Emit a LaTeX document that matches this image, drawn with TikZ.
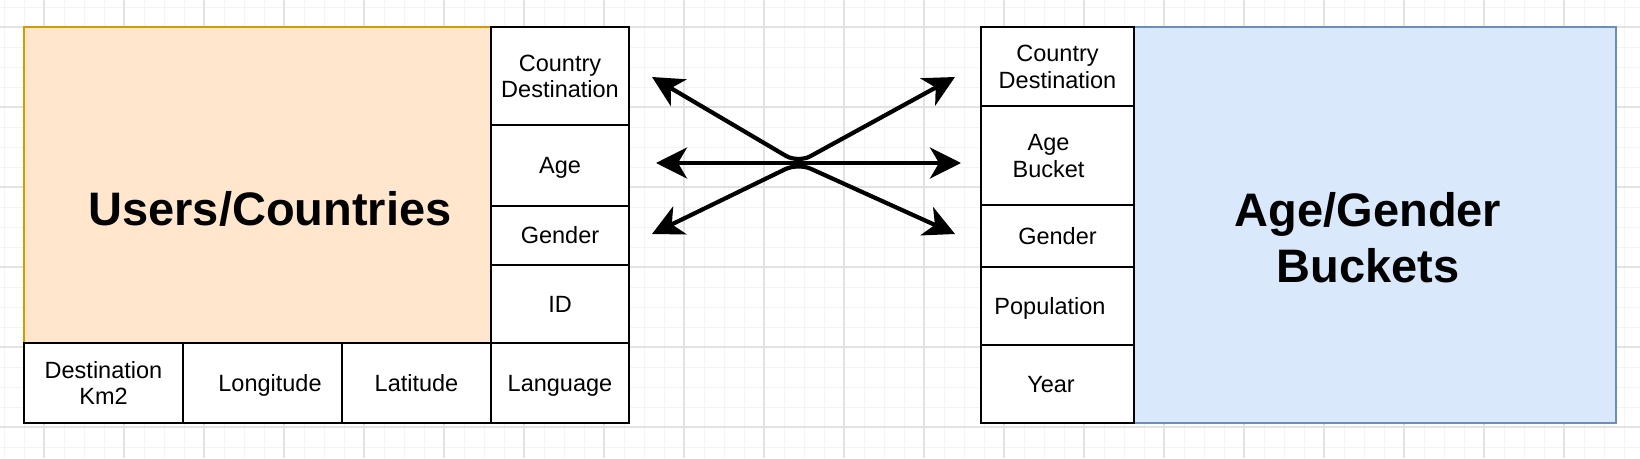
\documentclass[tikz,border=0pt]{standalone}
\usepackage{fontspec}
\setmainfont{Liberation Sans}
\usetikzlibrary{arrows.meta}
\definecolor{ufill}{HTML}{FFE6CC}
\definecolor{uline}{HTML}{D79B00}
\definecolor{afill}{HTML}{DAE8FC}
\definecolor{aline}{HTML}{6C8EBF}
\definecolor{gridminor}{HTML}{F4F4F4}
\definecolor{gridmajor}{HTML}{E3E3E3}
\newcommand\fieldstrut{\rule[-4.95pt]{0pt}{26.7pt}}
\begin{document}
\begin{tikzpicture}[x=1pt,y=-1pt,
  field/.style={draw=black, line width=2.2pt, fill=white, inner sep=0pt, align=center,
    font=\fontsize{23.5}{26.7}\selectfont},
  bigbox/.style={line width=2pt, inner sep=0pt},
  titletext/.style={font=\fontsize{47}{56}\selectfont\bfseries, align=center, inner sep=0pt},
  link/.style={line width=4.2pt, rounded corners=14pt,
    {Stealth[length=31pt,width=31pt,inset=9pt]}-{Stealth[length=31pt,width=31pt,inset=9pt]}}
]
\useasboundingbox[fill=white] (0,0) rectangle (1640,458);
% grid
\foreach \gx in {4,24,...,1640} \draw[gridminor, line width=1pt] (\gx,0) -- (\gx,458);
\foreach \gy in {7,27,...,458} \draw[gridminor, line width=1pt] (0,\gy) -- (1640,\gy);
\foreach \gx in {44,124,...,1640} \draw[gridmajor, line width=1.2pt] (\gx,0) -- (\gx,458);
\foreach \gy in {27,107,...,458} \draw[gridmajor, line width=1.2pt] (0,\gy) -- (1640,\gy);

% left table
\node[bigbox, draw=uline, fill=ufill, minimum width=467pt, minimum height=316pt] (users) at (257.5,185) {};
\node[titletext] (userstitle) at (270,209) {Users/Countries};
\node[field, minimum width=138pt, minimum height=98pt] (lcd) at (560,76) {Country\fieldstrut\\Destination\fieldstrut};
\node[field, minimum width=138pt, minimum height=81pt] (lage) at (560,165.5) {Age\fieldstrut};
\node[field, minimum width=138pt, minimum height=59pt] (lgen) at (560,235.5) {Gender\fieldstrut};
\node[field, minimum width=138pt, minimum height=78pt] (lid) at (560,304) {ID\fieldstrut};
\node[field, minimum width=138pt, minimum height=80pt] (llang) at (560,383) {Language\fieldstrut};
\node[field, minimum width=159pt, minimum height=80pt] (ldest) at (103.5,383) {Destination\fieldstrut\\Km2\fieldstrut};
\node[field, minimum width=159pt, minimum height=80pt] (llon) at (262.5,383) {\hspace*{15pt}Longitude\fieldstrut};
\node[field, minimum width=149pt, minimum height=80pt] (llat) at (416.5,383) {Latitude\fieldstrut};

% right table
\node[bigbox, draw=aline, fill=afill, minimum width=482pt, minimum height=396pt] (buckets) at (1375,225) {};
\node[titletext] (bucketstitle) at (1368,238) {Age/Gender\\Buckets};
\node[field, minimum width=153pt, minimum height=79pt] (rcd) at (1057.5,66.5) {Country\fieldstrut\\Destination\fieldstrut};
\node[field, minimum width=153pt, minimum height=99pt] (rage) at (1057.5,155.5) {Age\fieldstrut\hspace*{18pt}\\Bucket\fieldstrut\hspace*{18pt}};
\node[field, minimum width=153pt, minimum height=62pt] (rgen) at (1057.5,236) {Gender\fieldstrut};
\node[field, minimum width=153pt, minimum height=78pt] (rpop) at (1057.5,306) {Population\fieldstrut\hspace*{15pt}};
\node[field, minimum width=153pt, minimum height=78pt] (ryear) at (1057.5,384) {Year\fieldstrut\hspace*{13pt}};

% connectors
\coordinate (a1) at (652,77);
\coordinate (a2) at (955,77);
\coordinate (vx) at (798,163);
\coordinate (m1) at (656,163);
\coordinate (m2) at (961,163);
\coordinate (b1) at (652,234);
\coordinate (b2) at (955,234);
\draw[link] (a1) -- (vx) -- (a2);
\draw[link] (b1) -- (vx) -- (b2);
\draw[link] (m1) -- (m2);
\end{tikzpicture}
\end{document}
